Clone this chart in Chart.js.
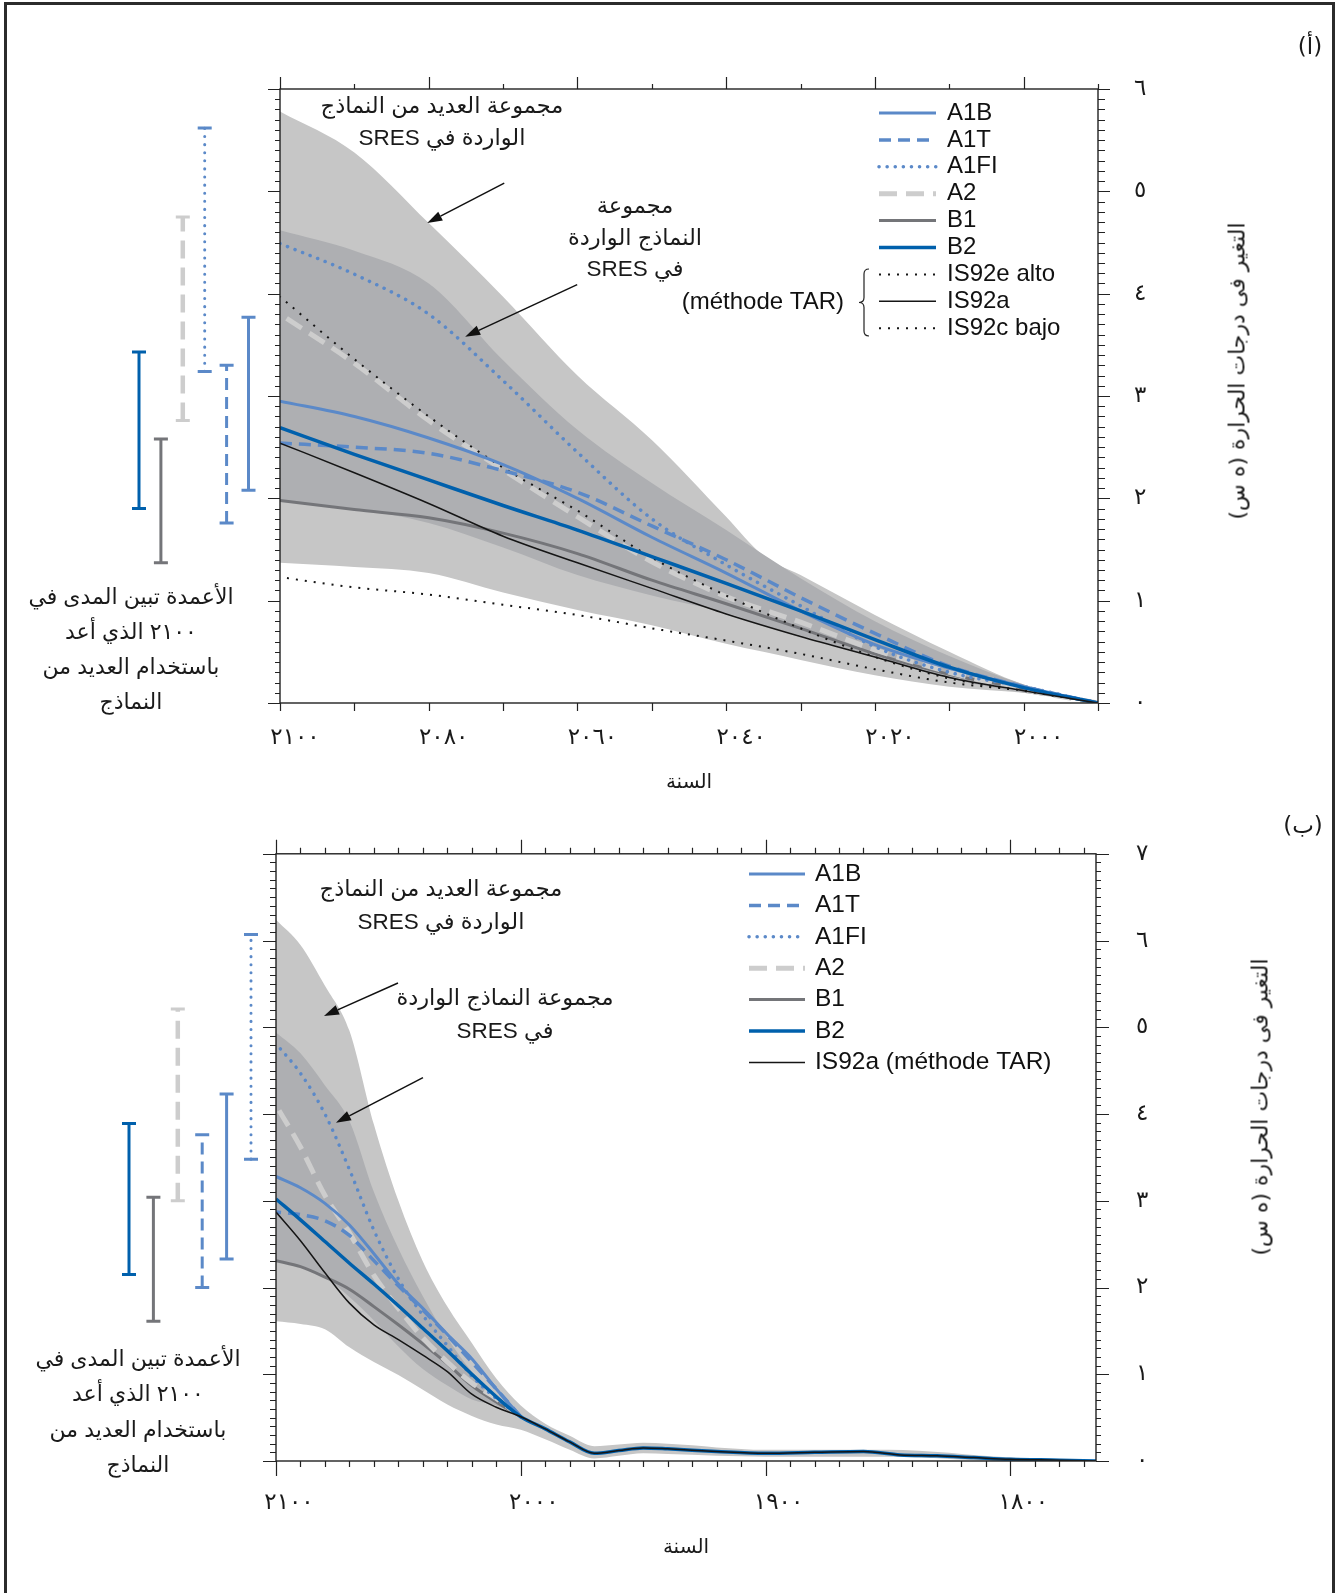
<!DOCTYPE html>
<html lang="ar">
<head>
<meta charset="utf-8">
<title>التغير في درجات الحرارة</title>
<script src="https://cdn.jsdelivr.net/npm/chart.js@4.4.1/dist/chart.umd.min.js"></script>
<style>
  html, body { margin: 0; padding: 0; background: #fff; }
  body { width: 1342px; height: 1593px; position: relative; overflow: hidden; font-family: "Liberation Sans", "DejaVu Sans", sans-serif; color: #1a1a1a; }
  .frame { position: absolute; left: 4px; top: 2px; width: 1331px; height: 1700px; box-sizing: border-box; border: 3px solid #2b2b2b; }
  canvas { position: absolute; left: 0; }
  #chartA { top: 0; }
  #chartB { top: 800px; }
  .note { position: absolute; direction: rtl; text-align: center; white-space: nowrap; font-size: 22.5px; transform: translateX(-50%); }
  .cap { font-size: 22px; }
  .ytitle { position: absolute; direction: rtl; white-space: nowrap; font-family: "DejaVu Sans", sans-serif; font-size: 22px; transform: translate(-50%, -50%) rotate(-90deg); }
  .tag { position: absolute; direction: rtl; font-family: "DejaVu Sans", sans-serif; font-size: 23px; transform: translate(-50%, -50%); }
</style>
</head>
<body>
<div class="frame"></div>
<canvas id="chartA" width="1342" height="800"></canvas>
<canvas id="chartB" width="1342" height="793"></canvas>

<div class="tag" style="left:1310px;top:46px">(أ)</div>
<div class="tag" style="left:1303px;top:825px">(ب)</div>

<div class="note" style="left:442px;top:90px;line-height:32px">مجموعة العديد من النماذج<br>الواردة في SRES</div>
<div class="note" style="left:635px;top:190px;line-height:31.5px">مجموعة<br>النماذج الواردة<br>في SRES</div>
<div class="note cap" style="left:131px;top:579px;line-height:35px">الأعمدة تبين المدى في<br>٢١٠٠ الذي أعد<br>باستخدام العديد من<br>النماذج</div>
<div class="ytitle" style="left:1237px;top:371px">التغير فى درجات الحرارة (ه س)</div>

<div class="note" style="left:441px;top:872px;line-height:33px">مجموعة العديد من النماذج<br>الواردة في SRES</div>
<div class="note" style="left:505px;top:982px;line-height:32.5px">مجموعة النماذج الواردة<br>في SRES</div>
<div class="note cap" style="left:138px;top:1341px;line-height:35.3px">الأعمدة تبين المدى في<br>٢١٠٠ الذي أعد<br>باستخدام العديد من<br>النماذج</div>
<div class="ytitle" style="left:1260px;top:1107px">التغير فى درجات الحرارة (ه س)</div>

<script>
// ---- panel (a): change relative to 1990 ----
const yearsA = [1990, 2000, 2010, 2020, 2030, 2040, 2050, 2060, 2070, 2080, 2090, 2100];
const a_A1B   = [0, 0.16, 0.34, 0.57, 0.90, 1.27, 1.62, 2.00, 2.33, 2.59, 2.80, 2.95];
const a_A1T   = [0, 0.16, 0.36, 0.68, 1.03, 1.40, 1.73, 2.06, 2.27, 2.44, 2.50, 2.54];
const a_A1FI  = [0, 0.16, 0.30, 0.55, 0.95, 1.35, 1.80, 2.45, 3.15, 3.80, 4.19, 4.49];
const a_A2    = [0, 0.13, 0.30, 0.52, 0.79, 1.04, 1.38, 1.82, 2.28, 2.76, 3.32, 3.80];
const a_B1    = [0, 0.14, 0.28, 0.48, 0.73, 0.97, 1.20, 1.46, 1.66, 1.81, 1.89, 1.98];
const a_B2    = [0, 0.15, 0.35, 0.62, 0.90, 1.17, 1.43, 1.69, 1.93, 2.18, 2.43, 2.69];
const a_IS92e = [0, 0.12, 0.24, 0.45, 0.73, 1.05, 1.42, 1.88, 2.30, 2.80, 3.36, 3.97];
const a_IS92a = [0, 0.12, 0.25, 0.45, 0.65, 0.87, 1.12, 1.37, 1.63, 1.95, 2.25, 2.54];
const a_IS92c = [0, 0.12, 0.20, 0.33, 0.48, 0.61, 0.73, 0.86, 0.96, 1.06, 1.13, 1.23];

const envYearsA = [1990, 2000, 2010, 2020, 2030, 2035, 2040, 2050, 2060, 2070, 2080, 2090, 2100];
const a_allHi  = [0, 0.18, 0.50, 0.86, 1.25, 1.44, 1.82, 2.57, 3.20, 3.97, 4.69, 5.38, 5.78];
const a_allLo  = [0, 0.10, 0.16, 0.27, 0.42, 0.50, 0.58, 0.76, 0.91, 1.08, 1.27, 1.33, 1.37];
const a_sresHi = [0, 0.18, 0.46, 0.80, 1.22, 1.45, 1.69, 2.15, 2.67, 3.35, 4.10, 4.42, 4.62];
const a_sresLo = [0, 0.10, 0.24, 0.45, 0.66, 0.76, 0.88, 1.05, 1.25, 1.52, 1.76, 1.90, 1.98];

const barNamesA = ['B2', 'B1', 'A2', 'A1FI', 'A1T', 'A1B'];
const barLoA = [1.90, 1.37, 2.76, 3.24, 1.76, 2.08];
const barHiA = [3.43, 2.58, 4.75, 5.62, 3.30, 3.77];

const xTickValsA = [2100, 2080, 2060, 2040, 2020, 2000];
const xTickLabA  = ['٢١٠٠', '٢٠٨٠', '٢٠٦٠', '٢٠٤٠', '٢٠٢٠', '٢٠٠٠'];
const yTickValsA = [0, 1, 2, 3, 4, 5, 6];
const yTickLabA  = ['٠', '١', '٢', '٣', '٤', '٥', '٦'];

// ---- panel (b): change since pre-industrial ----
const histYearsB = [1765, 1780, 1800, 1815, 1830, 1845, 1860, 1880, 1900, 1920, 1940, 1950, 1960, 1970, 1980, 1990];
const histB      = [0, 0.01, 0.02, 0.04, 0.06, 0.07, 0.11, 0.10, 0.09, 0.11, 0.14, 0.15, 0.12, 0.09, 0.22, 0.37];

const yearsB = [2000, 2010, 2020, 2030, 2040, 2050, 2060, 2070, 2080, 2090, 2100];
const b_A1B   = [0.51, 0.83, 1.18, 1.46, 1.76, 2.04, 2.39, 2.72, 2.97, 3.15, 3.28];
const b_A1T   = [0.51, 0.83, 1.14, 1.45, 1.74, 2.02, 2.31, 2.60, 2.77, 2.84, 2.87];
const b_A1FI  = [0.51, 0.72, 0.98, 1.33, 1.68, 2.10, 2.66, 3.36, 4.00, 4.47, 4.81];
const b_A2    = [0.51, 0.72, 0.90, 1.14, 1.42, 1.76, 2.14, 2.63, 3.06, 3.62, 4.10];
const b_B1    = [0.51, 0.68, 0.87, 1.12, 1.35, 1.57, 1.78, 1.98, 2.12, 2.24, 2.31];
const b_B2    = [0.51, 0.74, 1.00, 1.27, 1.53, 1.79, 2.04, 2.28, 2.53, 2.78, 3.02];
const b_IS92a = [0.51, 0.62, 0.77, 1.03, 1.22, 1.40, 1.57, 1.82, 2.17, 2.54, 2.87];

const envYearsB = [1765, 1800, 1850, 1900, 1940, 1950, 1960, 1970, 1980, 1990, 2000, 2010, 2020, 2030, 2040, 2050, 2060, 2070, 2080, 2090, 2100];
const b_allHi = [0, 0.04, 0.13, 0.13, 0.20, 0.21, 0.19, 0.17, 0.29, 0.43, 0.64, 0.95, 1.36, 1.78, 2.30, 3.00, 3.88, 4.96, 5.48, 5.95, 6.24];
const b_allLo = [0, 0.00, 0.05, 0.05, 0.08, 0.09, 0.06, 0.03, 0.13, 0.25, 0.36, 0.42, 0.52, 0.65, 0.82, 0.99, 1.14, 1.31, 1.52, 1.58, 1.61];
const b_sresHi = [0.51, 0.75, 1.03, 1.42, 1.90, 2.45, 3.10, 3.92, 4.33, 4.70, 4.94];
const b_sresLo = [0.51, 0.64, 0.71, 0.87, 1.06, 1.32, 1.62, 1.89, 2.12, 2.24, 2.31];

const barNamesB = ['B2', 'B1', 'A2', 'A1T', 'A1B', 'A1FI'];
const barLoB = [2.15, 1.61, 3.00, 2.00, 2.33, 3.48];
const barHiB = [3.89, 3.04, 5.21, 3.76, 4.23, 6.07];

const xTickValsB = [2100, 2000, 1900, 1800];
const xTickLabB  = ['٢١٠٠', '٢٠٠٠', '١٩٠٠', '١٨٠٠'];
const yTickValsB = [0, 1, 2, 3, 4, 5, 6, 7];
const yTickLabB  = ['٠', '١', '٢', '٣', '٤', '٥', '٦', '٧'];

// line styles per scenario
const STY = {
  A1B:   { color: '#5b89c8', width: 3 },
  A1T:   { color: '#5b89c8', width: 3.5, dash: [12, 7] },
  A1FI:  { color: '#5b89c8', width: 3.5, dash: [0.1, 8], cap: 'round' },
  A2:    { color: '#cdcdcd', width: 5, dash: [18, 9] },
  B1:    { color: '#747579', width: 3 },
  B2:    { color: '#0060ac', width: 3.5 },
  IS92a: { color: '#151515', width: 1.5 },
  IS92e: { color: '#151515', width: 2, dash: [2, 7] },
  IS92c: { color: '#151515', width: 2, dash: [2, 7] }
};
const LIGHT = '#c6c6c6', DARK = '#aeafb2';

function pts(xs, ys) { return xs.map((x, i) => ({ x: x, y: ys[i] })); }

function scen(name, xs, ys, order) {
  const s = STY[name];
  return {
    label: name, data: pts(xs, ys), xAxisID: 'x', yAxisID: 'y',
    borderColor: s.color, borderWidth: s.width, borderDash: s.dash || [],
    borderCapStyle: s.cap || 'butt', borderJoinStyle: 'round',
    pointRadius: 0, fill: false, cubicInterpolationMode: 'monotone', order: order
  };
}

function band(label, xs, ys, color, order, target) {
  return {
    label: label, data: pts(xs, ys), xAxisID: 'x', yAxisID: 'y',
    borderWidth: 0, borderColor: 'rgba(0,0,0,0)', backgroundColor: color,
    pointRadius: 0, fill: target == null ? false : { target: target },
    cubicInterpolationMode: 'monotone', order: order
  };
}

// 2100 ranges, drawn left of the plot on a hidden slot axis
function rangeBars(names, lo, hi) {
  return names.map((n, i) => {
    const s = STY[n];
    return {
      label: 'range ' + n, indexAxis: 'y', xAxisID: 'xr', yAxisID: 'y',
      data: [{ x: i, y: lo[i] }, { x: i, y: hi[i] }],
      borderColor: s.color, borderWidth: n === 'A2' ? 4.5 : 3, borderDash: s.dash || [],
      borderCapStyle: s.cap || 'butt', pointRadius: 0,
      fill: false, clip: false, order: 0
    };
  });
}

// end caps of the range bars (points outside the plot are skipped by Chart.js)
const rangeCaps = {
  id: 'rangeCaps',
  afterDatasetsDraw(chart) {
    const ctx = chart.ctx;
    chart.data.datasets.forEach((ds, i) => {
      if (ds.xAxisID !== 'xr') return;
      ctx.save();
      ctx.strokeStyle = ds.borderColor;
      ctx.lineWidth = 3;
      ctx.beginPath();
      chart.getDatasetMeta(i).data.forEach(pt => { ctx.moveTo(pt.x - 7, pt.y); ctx.lineTo(pt.x + 7, pt.y); });
      ctx.stroke();
      ctx.restore();
    });
  }
};

// box, tick marks on all four sides
const frameTicks = {
  id: 'frameTicks',
  afterDatasetsDraw(chart, args, o) {
    const { ctx, chartArea: a, scales: { x, y } } = chart;
    ctx.save();
    ctx.strokeStyle = '#222';
    ctx.lineWidth = 1.4;
    ctx.strokeRect(a.left, a.top, a.right - a.left, a.bottom - a.top);
    ctx.lineWidth = 1.2;
    ctx.beginPath();
    for (let v = o.xFrom; v <= o.xTo; v += o.xStep) {
      const px = Math.round(x.getPixelForValue(v)) + 0.5;
      const mj = v % o.xMajor === 0;
      ctx.moveTo(px, a.bottom); ctx.lineTo(px, a.bottom + (mj ? o.bottom[0] : o.bottom[1]));
      ctx.moveTo(px, a.top); ctx.lineTo(px, a.top - (mj ? o.top[0] : o.top[1]));
    }
    for (let i = 0; i <= o.yMax * 10; i++) {
      const py = Math.round(y.getPixelForValue(i / 10)) + 0.5;
      const mj = i % 10 === 0;
      ctx.moveTo(a.left, py); ctx.lineTo(a.left - (mj ? o.left[0] : o.left[1]), py);
      ctx.moveTo(a.right, py); ctx.lineTo(a.right + (mj ? o.right[0] : o.right[1]), py);
    }
    ctx.stroke();
    ctx.restore();
  }
};

// annotation arrows pointing at the envelopes
const arrows = {
  id: 'arrows',
  afterDatasetsDraw(chart, args, o) {
    const { ctx, scales: { x, y } } = chart;
    o.list.forEach(a => {
      const tx = x.getPixelForValue(a.at[0]), ty = y.getPixelForValue(a.at[1]);
      const fx = tx + a.from[0], fy = ty + a.from[1];
      const ang = Math.atan2(ty - fy, tx - fx), L = 15, W = 5;
      const bx = tx - L * Math.cos(ang), by = ty - L * Math.sin(ang);
      ctx.save();
      ctx.strokeStyle = '#111'; ctx.fillStyle = '#111'; ctx.lineWidth = 1.5;
      ctx.beginPath(); ctx.moveTo(fx, fy); ctx.lineTo(bx, by); ctx.stroke();
      ctx.beginPath(); ctx.moveTo(tx, ty);
      ctx.lineTo(bx + W * Math.sin(ang), by - W * Math.cos(ang));
      ctx.lineTo(bx - W * Math.sin(ang), by + W * Math.cos(ang));
      ctx.closePath(); ctx.fill();
      ctx.restore();
    });
  }
};

// legend drawn inside the plot, with line samples taken from STY
const legendInside = {
  id: 'legendInside',
  afterDatasetsDraw(chart, args, o) {
    const ctx = chart.ctx;
    ctx.save();
    ctx.font = o.font;
    ctx.fillStyle = '#111';
    ctx.textBaseline = 'middle';
    o.items.forEach((name, i) => {
      const s = STY[name], y = o.y0 + i * o.dy;
      ctx.save();
      ctx.strokeStyle = s.color; ctx.lineWidth = s.width;
      ctx.setLineDash(s.dash || []); ctx.lineCap = s.cap || 'butt';
      ctx.beginPath(); ctx.moveTo(o.x0, y); ctx.lineTo(o.x1, y); ctx.stroke();
      ctx.restore();
      ctx.fillText(o.text[i], o.tx, y);
    });
    if (o.brace) {
      const b = o.brace, m = (b.top + b.bottom) / 2, r = 5;
      ctx.strokeStyle = '#222'; ctx.lineWidth = 1.2;
      ctx.beginPath();
      ctx.moveTo(b.x + r, b.top);
      ctx.quadraticCurveTo(b.x, b.top, b.x, b.top + r);
      ctx.lineTo(b.x, m - r);
      ctx.quadraticCurveTo(b.x, m, b.x - r, m);
      ctx.quadraticCurveTo(b.x, m, b.x, m + r);
      ctx.lineTo(b.x, b.bottom - r);
      ctx.quadraticCurveTo(b.x, b.bottom, b.x + r, b.bottom);
      ctx.stroke();
      ctx.textAlign = 'right';
      ctx.fillText(b.text, b.tx, m);
    }
    ctx.restore();
  }
};

function makeChart(id, p) {
  const cv = document.getElementById(id);
  const W = cv.width, H = cv.height, a = p.area, XH = p.xAxisHeight, YW = 80;
  const tickFont = { family: '"DejaVu Sans", sans-serif', size: 23 };
  return new Chart(cv, {
    type: 'line',
    data: { datasets: p.datasets },
    plugins: [rangeCaps, frameTicks, arrows, legendInside],
    options: {
      responsive: false, animation: false, devicePixelRatio: 1, events: [],
      layout: { padding: { left: a.left, top: a.top, right: W - a.right - YW, bottom: H - a.bottom - XH } },
      plugins: {
        legend: { display: false }, tooltip: { enabled: false },
        frameTicks: p.ticks, arrows: { list: p.arrows }, legendInside: p.legend
      },
      scales: {
        x: {
          type: 'linear', position: 'bottom', min: p.xMin, max: 2100, reverse: true,
          grid: { display: false, drawTicks: false }, border: { display: false },
          afterBuildTicks: s => { s.ticks = p.xTickVals.map(v => ({ value: v })); },
          afterFit: s => { s.height = XH; },
          ticks: {
            autoSkip: false, maxRotation: 0, padding: p.xPad, labelOffset: p.xLabelOffset,
            font: tickFont, color: '#1a1a1a',
            callback: v => p.xTickLab[p.xTickVals.indexOf(v)]
          },
          title: { display: true, text: 'السنة', color: '#1a1a1a', font: { family: '"DejaVu Sans", sans-serif', size: 20 }, padding: { top: 0, bottom: 3 } }
        },
        xr: {
          type: 'linear', display: false,
          min: (a.left - p.bars.x0) / p.bars.step, max: (a.right - p.bars.x0) / p.bars.step
        },
        y: {
          type: 'linear', position: 'right', min: 0, max: p.yMax,
          grid: { display: false, drawTicks: false }, border: { display: false },
          afterBuildTicks: s => { s.ticks = p.yTickVals.map(v => ({ value: v })); },
          afterFit: s => { s.width = YW; },
          ticks: { autoSkip: false, padding: p.yPad, font: tickFont, color: '#1a1a1a', callback: v => p.yTickLab[p.yTickVals.indexOf(v)] }
        }
      }
    }
  });
}

// ---- panel (a) ----
const dsA = [
  band('all models high', envYearsA, a_allHi, LIGHT, 100, 1),
  band('all models low', envYearsA, a_allLo, LIGHT, 100, null),
  band('SRES ensemble high', envYearsA, a_sresHi, DARK, 90, 3),
  band('SRES ensemble low', envYearsA, a_sresLo, DARK, 90, null),
  scen('B1', yearsA, a_B1, 9),
  scen('IS92c', yearsA, a_IS92c, 8),
  scen('A2', yearsA, a_A2, 7),
  scen('IS92e', yearsA, a_IS92e, 6),
  scen('A1FI', yearsA, a_A1FI, 5),
  scen('A1T', yearsA, a_A1T, 4),
  scen('A1B', yearsA, a_A1B, 3),
  scen('B2', yearsA, a_B2, 2),
  scen('IS92a', yearsA, a_IS92a, 1)
].concat(rangeBars(barNamesA, barLoA, barHiA));

makeChart('chartA', {
  area: { left: 280, top: 89, right: 1098, bottom: 703 },
  xAxisHeight: 95, xMin: 1990, yMax: 6,
  xTickVals: xTickValsA, xTickLab: xTickLabA, yTickVals: yTickValsA, yTickLab: yTickLabA,
  xPad: 21, xLabelOffset: 15, yPad: 36,
  bars: { x0: 139, step: 21.9 },
  datasets: dsA,
  ticks: { xFrom: 1990, xTo: 2100, xStep: 10, xMajor: 20, yMax: 6, top: [12, 5], bottom: [8, 8], left: [12, 5], right: [12, 7] },
  arrows: [
    { at: [2080.2, 4.69], from: [77, -40] },
    { at: [2075.1, 3.58], from: [112, -52] }
  ],
  legend: {
    font: '24px "Liberation Sans", sans-serif',
    items: ['A1B', 'A1T', 'A1FI', 'A2', 'B1', 'B2', 'IS92e', 'IS92a', 'IS92c'],
    text: ['A1B', 'A1T', 'A1FI', 'A2', 'B1', 'B2', 'IS92e alto', 'IS92a', 'IS92c bajo'],
    x0: 879, x1: 936, tx: 947, y0: 113, dy: 26.9,
    brace: { x: 864, top: 269, bottom: 336, text: '(méthode TAR)', tx: 844 }
  }
});

// ---- panel (b) ----
const dsB = [
  band('all models high', envYearsB, b_allHi, LIGHT, 100, 1),
  band('all models low', envYearsB, b_allLo, LIGHT, 100, null),
  band('SRES ensemble high', yearsB, b_sresHi, DARK, 90, 3),
  band('SRES ensemble low', yearsB, b_sresLo, DARK, 90, null),
  scen('B1', yearsB, b_B1, 9),
  scen('A2', yearsB, b_A2, 7),
  scen('A1FI', yearsB, b_A1FI, 5),
  scen('A1T', yearsB, b_A1T, 4),
  scen('A1B', yearsB, b_A1B, 3),
  scen('B2', histYearsB.concat(yearsB), histB.concat(b_B2), 2),
  scen('IS92a', histYearsB.concat(yearsB), histB.concat(b_IS92a), 1)
].concat(rangeBars(barNamesB, barLoB, barHiB));

makeChart('chartB', {
  area: { left: 276, top: 33, right: 1096, bottom: 661 },
  xAxisHeight: 102, xMin: 1765, yMax: 7,
  xTickVals: xTickValsB, xTickLab: xTickLabB, yTickVals: yTickValsB, yTickLab: yTickLabB,
  xPad: 28, xLabelOffset: 13, yPad: 40,
  bars: { x0: 129, step: 24.4 },
  datasets: dsB,
  ticks: { xFrom: 1770, xTo: 2100, xStep: 10, xMajor: 100, yMax: 7, top: [14, 6], bottom: [15, 6], left: [13, 6], right: [13, 5] },
  arrows: [
    { at: [2080.4, 5.13], from: [74, -33] },
    { at: [2075.5, 3.90], from: [87, -45] }
  ],
  legend: {
    font: '24.5px "Liberation Sans", sans-serif',
    items: ['A1B', 'A1T', 'A1FI', 'A2', 'B1', 'B2', 'IS92a'],
    text: ['A1B', 'A1T', 'A1FI', 'A2', 'B1', 'B2', 'IS92a (méthode TAR)'],
    x0: 749, x1: 805, tx: 815, y0: 74, dy: 31.4
  }
});
</script>
</body>
</html>
